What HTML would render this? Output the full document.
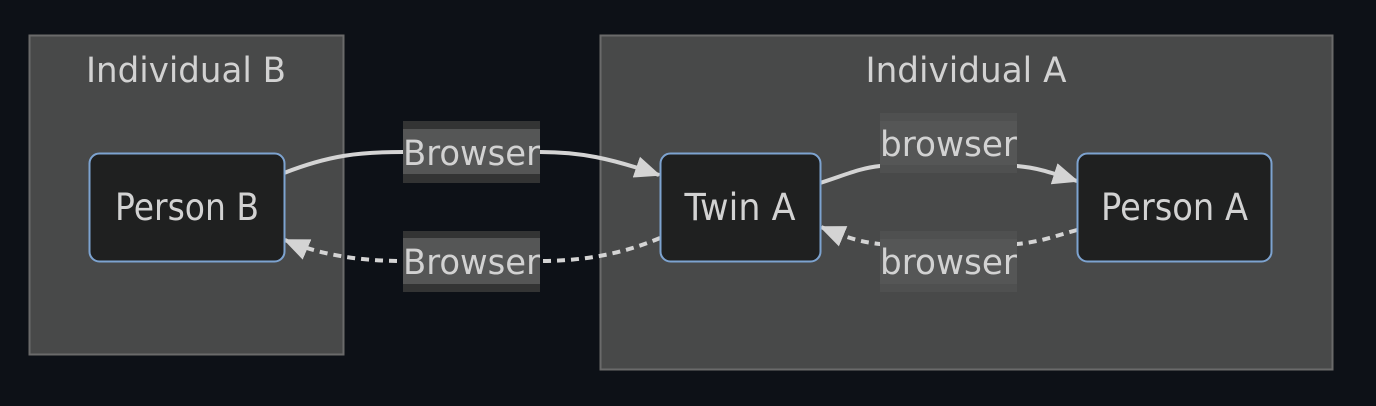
<!DOCTYPE html>
<html><head><meta charset="utf-8"><style>
html,body{margin:0;padding:0;background:#0d1117;}
svg{display:block;}
text{font-family:"DejaVu Sans","Liberation Sans",sans-serif;fill:#d2d2d2;}
</style></head><body>
<svg width="1376" height="406" viewBox="0 0 1376 406" xmlns="http://www.w3.org/2000/svg">
<defs>
<marker id="a2" markerWidth="26" markerHeight="26" refX="24" refY="13" orient="auto" markerUnits="userSpaceOnUse" viewBox="0 0 26 26">
<path d="M0,2 L26,13 L0,24 z" fill="#d4d4d4"/>
</marker>
</defs>
<rect x="0" y="0" width="1376" height="406" fill="#0d1117"/>
<rect x="29.5" y="35.5" width="314" height="319" fill="#484949" stroke="#6a6a6a" stroke-width="2"/>
<rect x="600.5" y="35.5" width="732" height="334" fill="#484949" stroke="#6a6a6a" stroke-width="2"/>
<text x="186" y="82" font-size="35" text-anchor="middle" textLength="200" lengthAdjust="spacingAndGlyphs">Individual B</text>
<text x="966" y="82" font-size="35" text-anchor="middle" textLength="201" lengthAdjust="spacingAndGlyphs">Individual A</text>
<path d="M284,173 C330,155 360,152 403,152 L540,152 C580,152 610,158 659,175" fill="none" stroke="#d4d4d4" stroke-width="4" marker-end="url(#a2)"/>
<path d="M660,238 C620,255 580,261 540,261 L403,261 C360,261 320,255 285,240" fill="none" stroke="#d4d4d4" stroke-width="4" stroke-dasharray="8,6" marker-end="url(#a2)"/>
<path d="M820,183 C845,175 860,168 880,166 L1017,166 C1040,168 1055,174 1077,181" fill="none" stroke="#d4d4d4" stroke-width="4" marker-end="url(#a2)"/>
<path d="M1077,230 C1055,236 1040,242 1017,244 L880,244 C860,242 845,237 821,227" fill="none" stroke="#d4d4d4" stroke-width="4" stroke-dasharray="8,6" marker-end="url(#a2)"/>
<rect x="403" y="121" width="137" height="62" fill="#333434"/>
<rect x="403" y="129" width="137" height="45" fill="#555656"/>
<text x="471.5" y="165" font-size="35" text-anchor="middle" textLength="137" lengthAdjust="spacingAndGlyphs">Browser</text>
<rect x="403" y="231" width="137" height="61" fill="#333434"/>
<rect x="403" y="238" width="137" height="46" fill="#555656"/>
<text x="471.5" y="274" font-size="35" text-anchor="middle" textLength="137" lengthAdjust="spacingAndGlyphs">Browser</text>
<rect x="880" y="113" width="137" height="60" fill="#4f5050"/>
<rect x="880" y="121" width="137" height="44" fill="#555656"/>
<text x="948.5" y="156" font-size="35" text-anchor="middle" textLength="137" lengthAdjust="spacingAndGlyphs">browser</text>
<rect x="880" y="231" width="137" height="61" fill="#4f5050"/>
<rect x="880" y="239" width="137" height="45" fill="#555656"/>
<text x="948.5" y="274" font-size="35" text-anchor="middle" textLength="137" lengthAdjust="spacingAndGlyphs">browser</text>
<rect x="89.5" y="153.5" width="195" height="108" rx="10" fill="#1f2020" stroke="#7da3d0" stroke-width="2"/>
<text x="187" y="220" font-size="37" text-anchor="middle" textLength="144" lengthAdjust="spacingAndGlyphs">Person B</text>
<rect x="660.5" y="153.5" width="160" height="108" rx="10" fill="#1f2020" stroke="#7da3d0" stroke-width="2"/>
<text x="740" y="220" font-size="37" text-anchor="middle" textLength="111" lengthAdjust="spacingAndGlyphs">Twin A</text>
<rect x="1077.5" y="153.5" width="194" height="108" rx="10" fill="#1f2020" stroke="#7da3d0" stroke-width="2"/>
<text x="1174.5" y="220" font-size="37" text-anchor="middle" textLength="147" lengthAdjust="spacingAndGlyphs">Person A</text>
</svg>
</body></html>
